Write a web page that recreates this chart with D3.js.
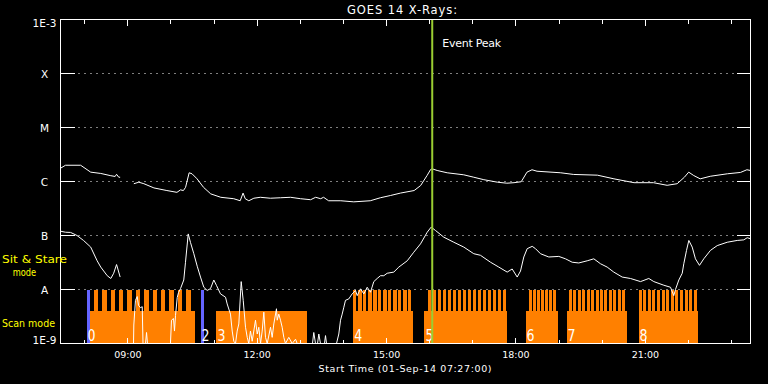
<!DOCTYPE html>
<html>
<head>
<meta charset="utf-8">
<script src="https://cdn.jsdelivr.net/npm/d3@7"></script>
<style>
  html, body { margin: 0; background: #000; }
  svg { display: block; font-family: "DejaVu Sans", sans-serif; }
</style>
</head>
<body>
<svg id="chart" width="768" height="384"></svg>
<script>
// all times are minutes after the start time (01-Sep-14 07:27:00)
const startTime = new Date(2014, 8, 1, 7, 27, 0);
const spanHours = 16;

const levelTicks = [1e-9, 1e-8, 1e-7, 1e-6, 1e-5, 1e-4, 1e-3];
const levelLabels = ["1E-9", "A", "B", "C", "M", "X", "1E-3"];
const gridLevels = [1e-8, 1e-7, 1e-6, 1e-5, 1e-4];

// GOES 14, 1-8 A channel [minutes, W/m^2]; null = data gap
const goesLong = [
  [0,1.76e-6],[7,2.0e-6],[28,2.0e-6],[42,1.49e-6],[56,1.41e-6],[70,1.28e-6],[76,1.24e-6],[78,1.36e-6],
  [81,1.2e-6],[83,1.2e-6],[92,null],[102,9.1e-7],[109,9.7e-7],[116,9.1e-7],[130,7.6e-7],[148,6.8e-7],
  [162,6.3e-7],[167,7.0e-7],[171,6.8e-7],[174,7.8e-7],[179,1.45e-6],[183,1.39e-6],[190,1.12e-6],
  [199,7.8e-7],[209,5.9e-7],[223,5.1e-7],[241,4.8e-7],[250,4.4e-7],[254,6.1e-7],[257,4.8e-7],
  [262,4.4e-7],[269,4.9e-7],[278,5.1e-7],[292,4.9e-7],[306,5.0e-7],[320,5.1e-7],[334,4.8e-7],
  [348,4.6e-7],[355,5.1e-7],[362,4.8e-7],[366,5.1e-7],[373,4.4e-7],[390,4.4e-7],[408,4.2e-7],
  [431,4.4e-7],[445,5.0e-7],[459,5.5e-7],[473,6.1e-7],[492,6.8e-7],[501,8.4e-7],[510,1.29e-6],
  [515,1.67e-6],[517,1.72e-6],[524,1.6e-6],[538,1.45e-6],[561,1.33e-6],[575,1.2e-6],[589,1.08e-6],
  [608,9.7e-7],[621,9.3e-7],[631,9.5e-7],[641,9.9e-7],[649,1.49e-6],[656,1.65e-6],[663,1.55e-6],
  [696,1.45e-6],[714,1.35e-6],[747,1.31e-6],[770,1.12e-6],[798,9.5e-7],[825,9.5e-7],[844,8.5e-7],
  [858,9.1e-7],[868,1.2e-6],[874,1.49e-6],[881,1.29e-6],[890,1.12e-6],[904,1.25e-6],[928,1.39e-6],
  [946,1.47e-6],[955,1.65e-6],[960,1.6e-6]
];

// GOES 14, 0.5-4 A channel
const goesShort = [
  [0,1.2e-7],[7,1.15e-7],[14,1.14e-7],[23,1.0e-7],[32,8.1e-8],[42,6.1e-8],[51,3.4e-8],[56,2.6e-8],
  [65,1.8e-8],[70,1.6e-8],[74,2.0e-8],[78,2.9e-8],[83,1.7e-8],[92,null],
  [101.6,1e-9],[102,2.2e-9],[104.3,6.3e-9],[106.7,7.4e-9],[108.5,5.1e-9],[111.3,4.6e-9],[113.7,4.8e-9],
  [114.8,1e-9],[118.3,1e-9],[119.7,1.6e-9],[121,1e-9],[153,1e-9],[154.4,2.7e-9],[157.2,2.9e-9],
  [158.6,1.7e-9],[160,3.3e-9],[162.4,7.1e-9],[164.2,8.8e-9],[167,1.04e-8],[171.5,1.5e-8],[173.9,3.2e-8],
  [177.7,1.07e-7],[180.9,7.4e-8],[185.5,4.6e-8],[190.2,2.7e-8],[194.8,1.7e-8],[199.4,1.1e-8],
  [204.1,9.6e-9],[208.7,1.04e-8],[213.3,1.5e-8],[217,1.19e-8],[222.6,8.3e-9],[229.6,7.2e-9],
  [231.9,5.4e-9],[236.5,3.5e-9],[238.9,1.7e-9],[241.1,1.1e-9],[243.5,1.0e-9],[245.8,1.7e-9],
  [248.1,2.3e-9],[251.4,1.4e-8],[254.2,6.3e-9],[257.4,2.0e-9],[259.8,1.3e-9],[262,1.0e-9],
  [264.3,1.7e-9],[266.7,1.1e-9],[271.3,2.7e-9],[273.7,1.5e-9],[275.9,2.0e-9],[278.3,1.0e-9],
  [280.6,1.7e-9],[282.9,3.8e-9],[285.2,1.3e-9],[287.6,1.0e-9],[292.2,2.0e-9],[294.5,1.3e-9],
  [296.8,2.3e-9],[300.5,4.4e-9],[301.5,2.7e-9],[303.7,3.5e-9],[306.1,2.7e-9],[308.4,2.0e-9],
  [310.7,1.3e-9],[313,1.0e-9],[317.6,1.3e-9],[322.4,1.0e-9],[327,1.2e-9],[329.3,1e-9],[350.6,1e-9],
  [352.4,1.6e-9],[354.8,1e-9],[357.6,1e-9],[359.4,1.5e-9],[361.7,1e-9],[367.3,1e-9],[368.7,1.4e-9],
  [370.1,1e-9],[384,1e-9],[387.2,1.5e-9],[389.6,2.7e-9],[391.9,3.5e-9],[394.2,4.7e-9],[396.5,6.3e-9],
  [401.1,6.7e-9],[405.8,8.3e-9],[410.4,9.6e-9],[412.8,7.7e-9],[417.4,1.03e-8],[422,8.3e-9],
  [426.7,1.1e-8],[431.3,8.9e-9],[435.9,1.4e-8],[440.6,1.6e-8],[445.2,1.8e-8],[449.8,1.8e-8],
  [454.5,2.0e-8],[463.7,2.1e-8],[470.7,2.6e-8],[482.4,3.4e-8],[491.5,4.9e-8],[500.9,7.0e-8],
  [510.2,1.15e-7],[515.7,1.43e-7],[521.7,1.24e-7],[533.3,9.3e-8],[547.2,7.5e-8],[561.1,6.1e-8],
  [575,4.6e-8],[584.3,4.3e-8],[598.3,3.2e-8],[609.8,2.6e-8],[621.5,2.1e-8],[628.4,2.4e-8],
  [635.4,1.7e-8],[640,2.2e-8],[644.6,4.0e-8],[649.3,5.7e-8],[656.3,6.3e-8],[660.9,5.7e-8],
  [667.8,4.6e-8],[679.4,4.0e-8],[693.3,4.1e-8],[702.6,3.7e-8],[711.9,3.2e-8],[721.1,3.1e-8],
  [732.8,3.4e-8],[742,3.7e-8],[751.3,3.0e-8],[760.6,2.6e-8],[769.8,2.1e-8],[781.5,1.7e-8],
  [793,1.6e-8],[807,1.4e-8],[818.5,1.6e-8],[825.5,1.4e-8],[839.4,1.2e-8],[848.7,1.1e-8],
  [853.3,7.7e-9],[855.6,1.0e-8],[860.3,1.5e-8],[865,2.0e-8],[867.2,3.0e-8],[871,5.3e-8],
  [874.2,8.1e-8],[878.9,6.1e-8],[883.4,3.7e-8],[889,2.8e-8],[895,3.7e-8],[904.3,5.3e-8],
  [913.7,6.5e-8],[927.6,7.5e-8],[941.5,8.1e-8],[950.7,8.3e-8],[955.4,9.1e-8],[960,8.7e-8]
];

const eventPeak = 517.2;

// observation timeline: sit & stare blocks, scan blocks, exposures
const stareBlocks = [[36.2, 41.7], [194.8, 199.0]];
const scanBlocks = [[41.7, 187.8], [217.0, 343.2], [407.2, 491.1], [506.4, 621.5],
                    [647.0, 691.5], [704.0, 787.5], [804.2, 887.6]];
const obsLabels = ["0", "2", "3", "4", "5", "6", "7", "8"];
const obsStarts = [36.2, 194.8, 217.0, 407.2, 506.4, 647.0, 704.0, 804.2];
const exposureLength = [6.0, 4.6, 4.6, 3.9, 4.2, 4.3];
const exposureStarts = [
  [46.3, 58.0, 69.7, 81.4, 93.1, 104.8, 116.5, 128.1, 139.8, 151.5, 163.2, 174.9],
  [407.2, 414.2, 421.1, 428.1, 435.1, 442.0, 449.0, 455.9, 462.9, 469.8, 476.8, 483.7],
  [511.0, 518.0, 525.0, 531.9, 538.9, 545.8, 552.8, 559.7, 566.7, 573.6, 580.6, 587.6,
   594.5, 601.5, 608.4, 615.4],
  [651.6, 657.3, 663.0, 668.7, 674.4, 680.1, 685.8],
  [707.2, 713.4, 719.6, 725.8, 732.0, 738.2, 744.4, 750.6, 756.8, 763.0, 769.2, 775.4, 781.6],
  [804.2, 810.6, 817.0, 823.4, 829.8, 836.2, 842.6, 849.0, 855.4, 861.8, 868.2, 874.6, 881.0]
];
const stareLevel = 1e-8, scanLevel = 4e-9;

const orange = "#ff8000", blue = "#6464ff", yellow = "#ffff00", peakGreen = "#9acd32";

const at = m => new Date(startTime.getTime() + m * 60000);

const svg = d3.select("#chart");
const margin = {left: 60, right: 18, top: 19, bottom: 41};
const W = 768, H = 384;

const x = d3.scaleTime()
    .domain([startTime, d3.timeHour.offset(startTime, spanHours)])
    .range([margin.left, W - margin.right]);
const y = d3.scaleLog()
    .domain([1e-9, 1e-3])
    .range([H - margin.bottom, margin.top])
    .clamp(true);

const root = svg.append("g").attr("transform", "translate(0.5,0.5)");
const x0 = x.range()[0], x1 = x.range()[1];
const yBot = y.range()[0], yTop = y.range()[1];

// dotted level lines
root.append("g").selectAll("line")
    .data(gridLevels)
    .enter().append("line")
    .attr("x1", x0 + 18).attr("x2", x1 - 14)
    .attr("y1", d => y(d)).attr("y2", d => y(d))
    .attr("stroke", "#fff")
    .attr("stroke-dasharray", "1,5");

// timeline bars
const bars = root.append("g").attr("shape-rendering", "crispEdges");
bars.selectAll("rect.scan")
    .data(scanBlocks)
    .enter().append("rect")
    .attr("class", "scan")
    .attr("x", d => x(at(d[0])))
    .attr("width", d => x(at(d[1])) - x(at(d[0])))
    .attr("y", y(scanLevel))
    .attr("height", yBot - y(scanLevel))
    .attr("fill", orange);

const exposures = [];
exposureStarts.forEach(function (list, i) {
    list.forEach(function (s) { exposures.push([s, s + exposureLength[i]]); });
});
bars.selectAll("rect.expo")
    .data(exposures)
    .enter().append("rect")
    .attr("class", "expo")
    .attr("x", d => x(at(d[0])))
    .attr("width", d => x(at(d[1])) - x(at(d[0])))
    .attr("y", y(stareLevel))
    .attr("height", y(scanLevel) - y(stareLevel))
    .attr("fill", orange);

bars.selectAll("rect.stare")
    .data(stareBlocks)
    .enter().append("rect")
    .attr("class", "stare")
    .attr("x", d => x(at(d[0])))
    .attr("width", d => x(at(d[1])) - x(at(d[0])))
    .attr("y", y(stareLevel))
    .attr("height", yBot - y(stareLevel))
    .attr("fill", blue);

// observation numbers
root.append("g").selectAll("text")
    .data(obsLabels)
    .enter().append("text")
    .attr("x", (d, i) => x(at(obsStarts[i])) + 1)
    .attr("y", yBot - 3)
    .attr("fill", "#fff")
    .attr("font-size", 16)
    .attr("textLength", 8)
    .attr("lengthAdjust", "spacingAndGlyphs")
    .text(d => d);

// flux curves
const line = d3.line()
    .defined(d => d[1] != null)
    .x(d => x(at(d[0])))
    .y(d => y(d[1]));

root.append("path").datum(goesLong)
    .attr("d", line).attr("fill", "none")
    .attr("stroke", "#fff").attr("stroke-width", 1);
root.append("path").datum(goesShort)
    .attr("d", line).attr("fill", "none")
    .attr("stroke", "#fff").attr("stroke-width", 1);

// event peak marker
root.append("line")
    .attr("x1", x(at(eventPeak))).attr("x2", x(at(eventPeak)))
    .attr("y1", yTop).attr("y2", yBot)
    .attr("stroke", peakGreen).attr("stroke-width", 2);
root.append("text")
    .attr("x", x(at(eventPeak)) + 10).attr("y", 46.5)
    .attr("fill", "#fff").attr("font-size", 11)
    .attr("textLength", 59)
    .text("Event Peak");

// frame
root.append("rect")
    .attr("x", x0).attr("y", yTop)
    .attr("width", x1 - x0).attr("height", yBot - yTop)
    .attr("fill", "none").attr("stroke", "#fff")
    .attr("shape-rendering", "crispEdges");

// level ticks on both sides
const yt = root.append("g").attr("stroke", "#fff").attr("shape-rendering", "crispEdges");
yt.selectAll("line.l").data(levelTicks).enter().append("line")
    .attr("x1", x0).attr("x2", x0 + 14)
    .attr("y1", d => y(d)).attr("y2", d => y(d));
yt.selectAll("line.r").data(levelTicks).enter().append("line")
    .attr("x1", x1 - 14).attr("x2", x1)
    .attr("y1", d => y(d)).attr("y2", d => y(d));

root.append("g").selectAll("text")
    .data(levelTicks)
    .enter().append("text")
    .attr("x", x0 - 16)
    .attr("y", function (d, i) {
        if (i === levelTicks.length - 1) return y(d) + 7.7;
        if (i === 0) return y(d) + 0.3;
        return y(d) + 4.5;
    })
    .attr("text-anchor", "middle")
    .attr("fill", "#fff")
    .attr("font-size", 10.5)
    .text((d, i) => levelLabels[i]);

// time axes, hourly minor ticks and 3-hourly major ticks
function styleAxis(g) {
    g.select(".domain").remove();
    g.attr("color", "#fff").attr("shape-rendering", "crispEdges");
    g.selectAll("text")
        .attr("font-family", "DejaVu Sans, sans-serif")
        .attr("font-size", 9.5)
        .attr("fill", "#fff");
}

root.append("g").attr("transform", "translate(0," + yBot + ")")
    .call(d3.axisBottom(x).ticks(d3.timeHour.every(1)).tickSize(-4).tickFormat(""))
    .call(styleAxis);
root.append("g").attr("transform", "translate(0," + yBot + ")")
    .call(d3.axisBottom(x).ticks(d3.timeHour.every(3)).tickSize(-6).tickPadding(8)
        .tickFormat(d3.timeFormat("%H:%M")))
    .call(styleAxis);
root.append("g").attr("transform", "translate(0," + yTop + ")")
    .call(d3.axisTop(x).ticks(d3.timeHour.every(1)).tickSize(-4).tickFormat(""))
    .call(styleAxis);
root.append("g").attr("transform", "translate(0," + yTop + ")")
    .call(d3.axisTop(x).ticks(d3.timeHour.every(3)).tickSize(-6).tickFormat(""))
    .call(styleAxis);

// titles
svg.append("text")
    .attr("x", 402).attr("y", 13.5)
    .attr("text-anchor", "middle")
    .attr("fill", "#fff").attr("font-size", 11.5)
    .attr("textLength", 110)
    .text("GOES 14 X-Rays:");
svg.append("text")
    .attr("x", 405).attr("y", 371.5)
    .attr("text-anchor", "middle")
    .attr("fill", "#fff").attr("font-size", 9.5)
    .attr("textLength", 173)
    .text("Start Time (01-Sep-14 07:27:00)");

// mode legend
const legend = svg.append("g").attr("fill", yellow).attr("font-size", 11);
legend.append("text").attr("x", 2).attr("y", 262.5).attr("textLength", 65)
    .attr("lengthAdjust", "spacingAndGlyphs").text("Sit & Stare");
legend.append("text").attr("x", 12.7).attr("y", 276).attr("textLength", 23.5)
    .attr("lengthAdjust", "spacingAndGlyphs").text("mode");
legend.append("text").attr("x", 2).attr("y", 327.3).attr("textLength", 53)
    .attr("lengthAdjust", "spacingAndGlyphs").text("Scan mode");
</script>
</body>
</html>
